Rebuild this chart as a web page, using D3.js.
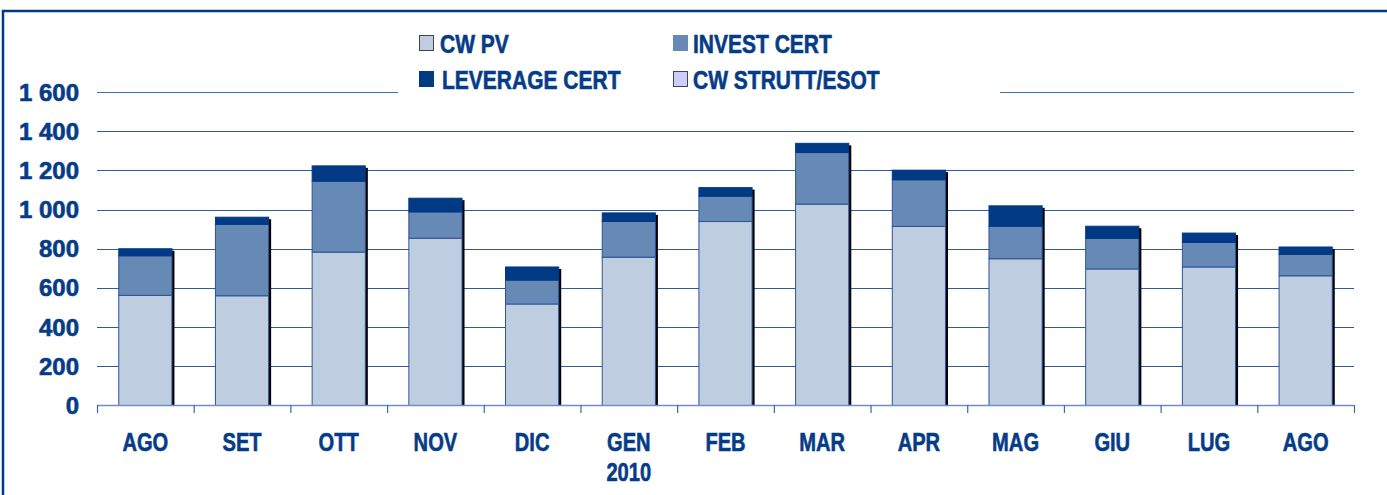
<!DOCTYPE html>
<html><head><meta charset="utf-8">
<script src="https://cdn.jsdelivr.net/npm/d3@7"></script>
<style>body{margin:0;background:#fff}svg{display:block}text{stroke:#063c87;stroke-width:0.6px;paint-order:stroke}</style>
</head><body>
<svg id="c" width="1387" height="495"></svg>
<script>
const categories = ["AGO","SET","OTT","NOV","DIC","GEN\n2010","FEB","MAR","APR","MAG","GIU","LUG","AGO"];
const seriesNames = ["CW PV","INVEST CERT","LEVERAGE CERT","CW STRUTT/ESOT"];
const cwPV     = [562, 560, 783, 854, 518, 757, 939, 1028, 914, 749, 697, 707, 662];
const invest   = [202, 364, 362, 134, 122, 182, 129, 263, 238, 166, 156, 125, 109];
const leverage = [36, 37, 78, 70, 67, 44, 44, 47, 49, 104, 62, 48, 38];
const cwStrutt = [0, 0, 0, 0, 0, 0, 0, 0, 0, 0, 0, 0, 0];
const yTicks = [0, 200, 400, 600, 800, 1000, 1200, 1400, 1600];

const colors = ["#bfcde1", "#6789b6", "#003a85", "#ccccff"];
const navy = "#063c87";
const svg = d3.select("#c");

// frame
svg.append("rect").attr("x",3).attr("y",11).attr("width",1390).attr("height",500)
  .attr("fill","none").attr("stroke","#003a87").attr("stroke-width",2.5);

const x = d3.scaleBand().domain(d3.range(categories.length)).range([97, 1354]).paddingInner(0).paddingOuter(0);
const y = d3.scaleLinear().domain([0, 1600]).range([405.5, 92]);
const bw = x.bandwidth() * 0.55;

// gridlines
svg.append("g").selectAll("line").data(yTicks.filter(d => d > 0)).join("line")
  .attr("x1", 97).attr("x2", 1354)
  .attr("y1", d => Math.round(y(d)) + 0.5).attr("y2", d => Math.round(y(d)) + 0.5)
  .attr("stroke", d => d === 1600 ? "#3f70b5" : "#2f5a9c").attr("stroke-width", 1.2);

// y labels
svg.append("g").selectAll("text").data(yTicks).join("text")
  .attr("x", 79).attr("y", d => y(d) + 8.5)
  .attr("text-anchor","end").attr("fill", navy)
  .attr("font-family","'Liberation Sans', Arial, sans-serif").attr("font-weight","bold").attr("font-size",24)
  .text(d => d3.format(",")(d).replace(/,/g, " "));

// stacked data
const stackData = categories.map((c, i) => ({i, a: cwPV[i], b: invest[i], c: leverage[i], d: cwStrutt[i]}));
const stack = d3.stack().keys(["a","b","c","d"])(stackData);

// shadows
svg.append("g").selectAll("rect").data(stackData).join("rect")
  .attr("x", d => x(d.i) + (x.bandwidth() - bw) / 2 + 2.5)
  .attr("y", d => y(d.a + d.b + d.c + d.d) + 2)
  .attr("width", bw).attr("height", d => y(0) - y(d.a + d.b + d.c + d.d) - 2)
  .attr("fill", "#000");

// bars
stack.forEach((layer, k) => {
  svg.append("g").selectAll("rect").data(layer).join("rect")
    .attr("x", d => x(d.data.i) + (x.bandwidth() - bw) / 2)
    .attr("y", d => y(d[1]))
    .attr("width", bw)
    .attr("height", d => Math.max(0, y(d[0]) - y(d[1])))
    .attr("fill", colors[k])
    .attr("stroke", k === 2 ? "#003a85" : "#2d5596").attr("stroke-width", 1);
});

// x axis line and ticks
svg.append("line").attr("x1", 97).attr("x2", 1354).attr("y1", 405.5).attr("y2", 405.5)
  .attr("stroke", "#6f8fc2").attr("stroke-width", 1.5);
svg.append("g").selectAll("line").data(d3.range(categories.length + 1)).join("line")
  .attr("x1", i => (i < categories.length ? x(i) : 1354) + 0.5)
  .attr("x2", i => (i < categories.length ? x(i) : 1354) + 0.5)
  .attr("y1", 405).attr("y2", 413)
  .attr("stroke", "#3d66a8").attr("stroke-width", 1.2);

// x labels
const xl = svg.append("g").selectAll("g").data(categories.map((c, i) => ({c, i}))).join("g")
  .attr("transform", d => `translate(${x(d.i) + x.bandwidth()/2},0)`);
xl.each(function(d) {
  const lines = d.c.split("\n");
  lines.forEach((t, j) => {
    d3.select(this).append("text")
      .attr("transform", `translate(0,${451 + j * 29.5}) scale(0.76,1)`)
      .attr("text-anchor","middle").attr("fill", navy)
      .attr("font-family","'Liberation Sans', Arial, sans-serif").attr("font-weight","bold").attr("font-size",26.5)
      .text(t);
  });
});

// legend background (breaks top gridline)
svg.append("rect").attr("x", 398).attr("y", 20).attr("width", 602).attr("height", 80).attr("fill", "#fff");

const legendPos = [
  {sx: 419, sy: 35, tx: 440, ty: 53},
  {sx: 673, sy: 35, tx: 693, ty: 53},
  {sx: 419, sy: 71, tx: 442, ty: 88.5},
  {sx: 673, sy: 71, tx: 693, ty: 88.5}
];
seriesNames.forEach((n, k) => {
  const p = legendPos[k];
  svg.append("rect").attr("x", p.sx + 0.5).attr("y", p.sy + 0.5).attr("width", 14).attr("height", 15)
    .attr("fill", colors[k]).attr("stroke", k === 1 ? "#6789b6" : (k === 2 ? "#003a85" : "#444")).attr("stroke-width", 1);
  svg.append("text").attr("transform", `translate(${p.tx},${p.ty}) scale(0.84,1)`)
    .attr("fill", navy)
    .attr("font-family","'Liberation Sans', Arial, sans-serif").attr("font-weight","bold").attr("font-size",25)
    .text(n);
});
</script>
</body></html>
